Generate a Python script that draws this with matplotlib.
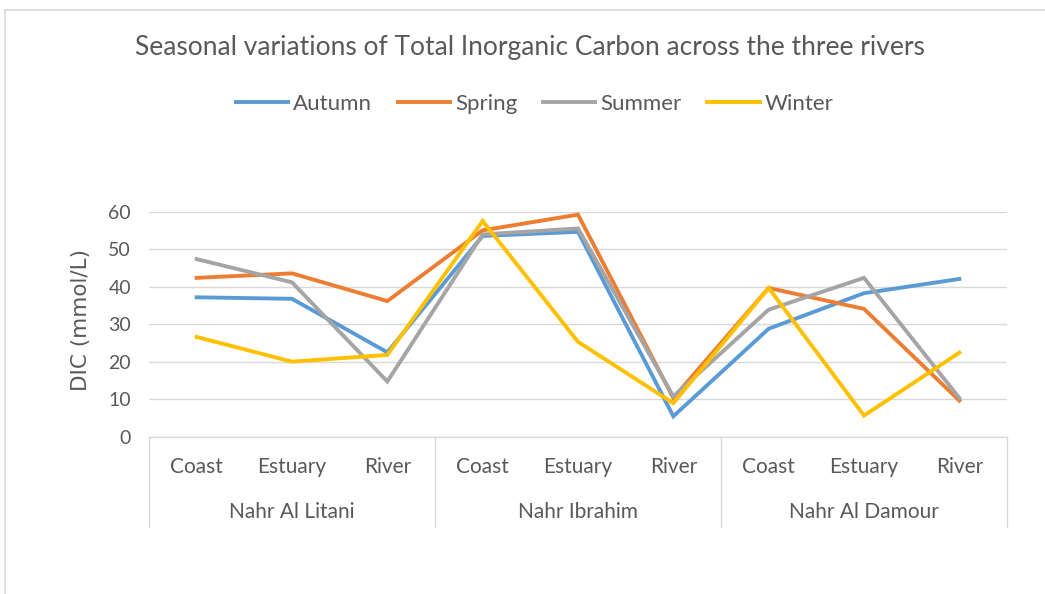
import matplotlib
matplotlib.use("Agg")
import matplotlib.pyplot as plt
from matplotlib.lines import Line2D
import matplotlib.transforms as mtransforms

plt.rcParams['font.family'] = ['Lato', 'DejaVu Sans']

rivers = ["Nahr Al Litani", "Nahr Ibrahim", "Nahr Al Damour"]
sites = ["Coast", "Estuary", "River"]
seasons = ["Autumn", "Spring", "Summer", "Winter"]
autumn = [37.2, 36.8, 22.5, 53.6, 54.7, 5.4, 28.8, 38.3, 42.1]
spring = [42.4, 43.6, 36.2, 55.1, 59.3, 10.3, 39.7, 34.1, 9.6]
summer = [47.4, 41.2, 14.7, 54.0, 55.6, 10.7, 33.9, 42.4, 10.3]
winter = [26.6, 20.0, 21.8, 57.6, 25.3, 8.9, 39.7, 5.6, 22.4]
yticks = [0, 10, 20, 30, 40, 50, 60]

colors = ["#5B9BD5", "#ED7D31", "#A5A5A5", "#FFC000"]
text_color = "#595959"
grid_color = "#D9D9D9"

W, H = 1045, 594
fig = plt.figure(figsize=(W / 100, H / 100), dpi=100)
ax = fig.add_axes([149 / W, 1 - 436.5 / H, (1007 - 149) / W, (436.5 - 212) / H])

x = list(range(len(rivers) * len(sites)))
for vals, c, name in zip([autumn, spring, summer, winter], colors, seasons):
    ax.plot(x, vals, color=c, lw=2.8, label=name, solid_joinstyle='miter', zorder=3)

ax.set_xlim(-0.5, len(x) - 0.5)
ax.set_ylim(0, 60)
ax.set_yticks(yticks)
ax.set_yticklabels([str(v) for v in yticks], fontsize=14, color=text_color)
ax.tick_params(axis='y', length=0, pad=13)
ax.set_xticks([])
ax.yaxis.grid(True, color=grid_color, lw=1.0)
ax.set_axisbelow(True)
for s in ['top', 'right', 'left']:
    ax.spines[s].set_visible(False)
ax.spines['bottom'].set_color(grid_color)
ax.spines['bottom'].set_linewidth(1.0)

fig.text(81 / W, 1 - 320 / H, "DIC (mmol/L)", rotation=90, ha='center', va='center',
         fontsize=15.5, color=text_color, family=['DejaVu Sans'])

# category axis
trans = mtransforms.blended_transform_factory(ax.transData, ax.transAxes)
ybot = (436.5 - 527) / (436.5 - 212)
for b in [-0.5, 2.5, 5.5, 8.5]:
    ax.add_line(Line2D([b, b], [0, ybot], transform=trans, color=grid_color,
                       lw=1.0, clip_on=False))
ysub = (436.5 - 467) / (436.5 - 212)
ygrp = (436.5 - 512) / (436.5 - 212)
for i, r in enumerate(rivers):
    for j, s in enumerate(sites):
        ax.text(i * 3 + j, ysub, s, transform=trans, ha='center', va='center',
                fontsize=15, color=text_color)
    ax.text(i * 3 + 1, ygrp, r, transform=trans, ha='center', va='center',
            fontsize=15, color=text_color)

fig.text(529.5 / W, 1 - 48 / H, "Seasonal variations of Total Inorganic Carbon across the three rivers",
         ha='center', va='center', fontsize=19, color=text_color)

handles = [Line2D([0], [0], color=c, lw=2.8) for c in colors]
fig.legend(handles, seasons, loc='center', bbox_to_anchor=(534.5 / W, 1 - 104 / H), ncol=4,
           frameon=False, fontsize=16, handlelength=2.35, handletextpad=0.22,
           columnspacing=1.17, labelcolor=text_color)

# chart border
fig.add_artist(Line2D([5 / W, 5 / W], [0, 1 - 10 / H], transform=fig.transFigure,
                      color=grid_color, lw=1.2))
fig.add_artist(Line2D([5 / W, 1], [1 - 10 / H, 1 - 10 / H], transform=fig.transFigure,
                      color=grid_color, lw=1.2))

fig.savefig("out.png", dpi=100, facecolor='white')
